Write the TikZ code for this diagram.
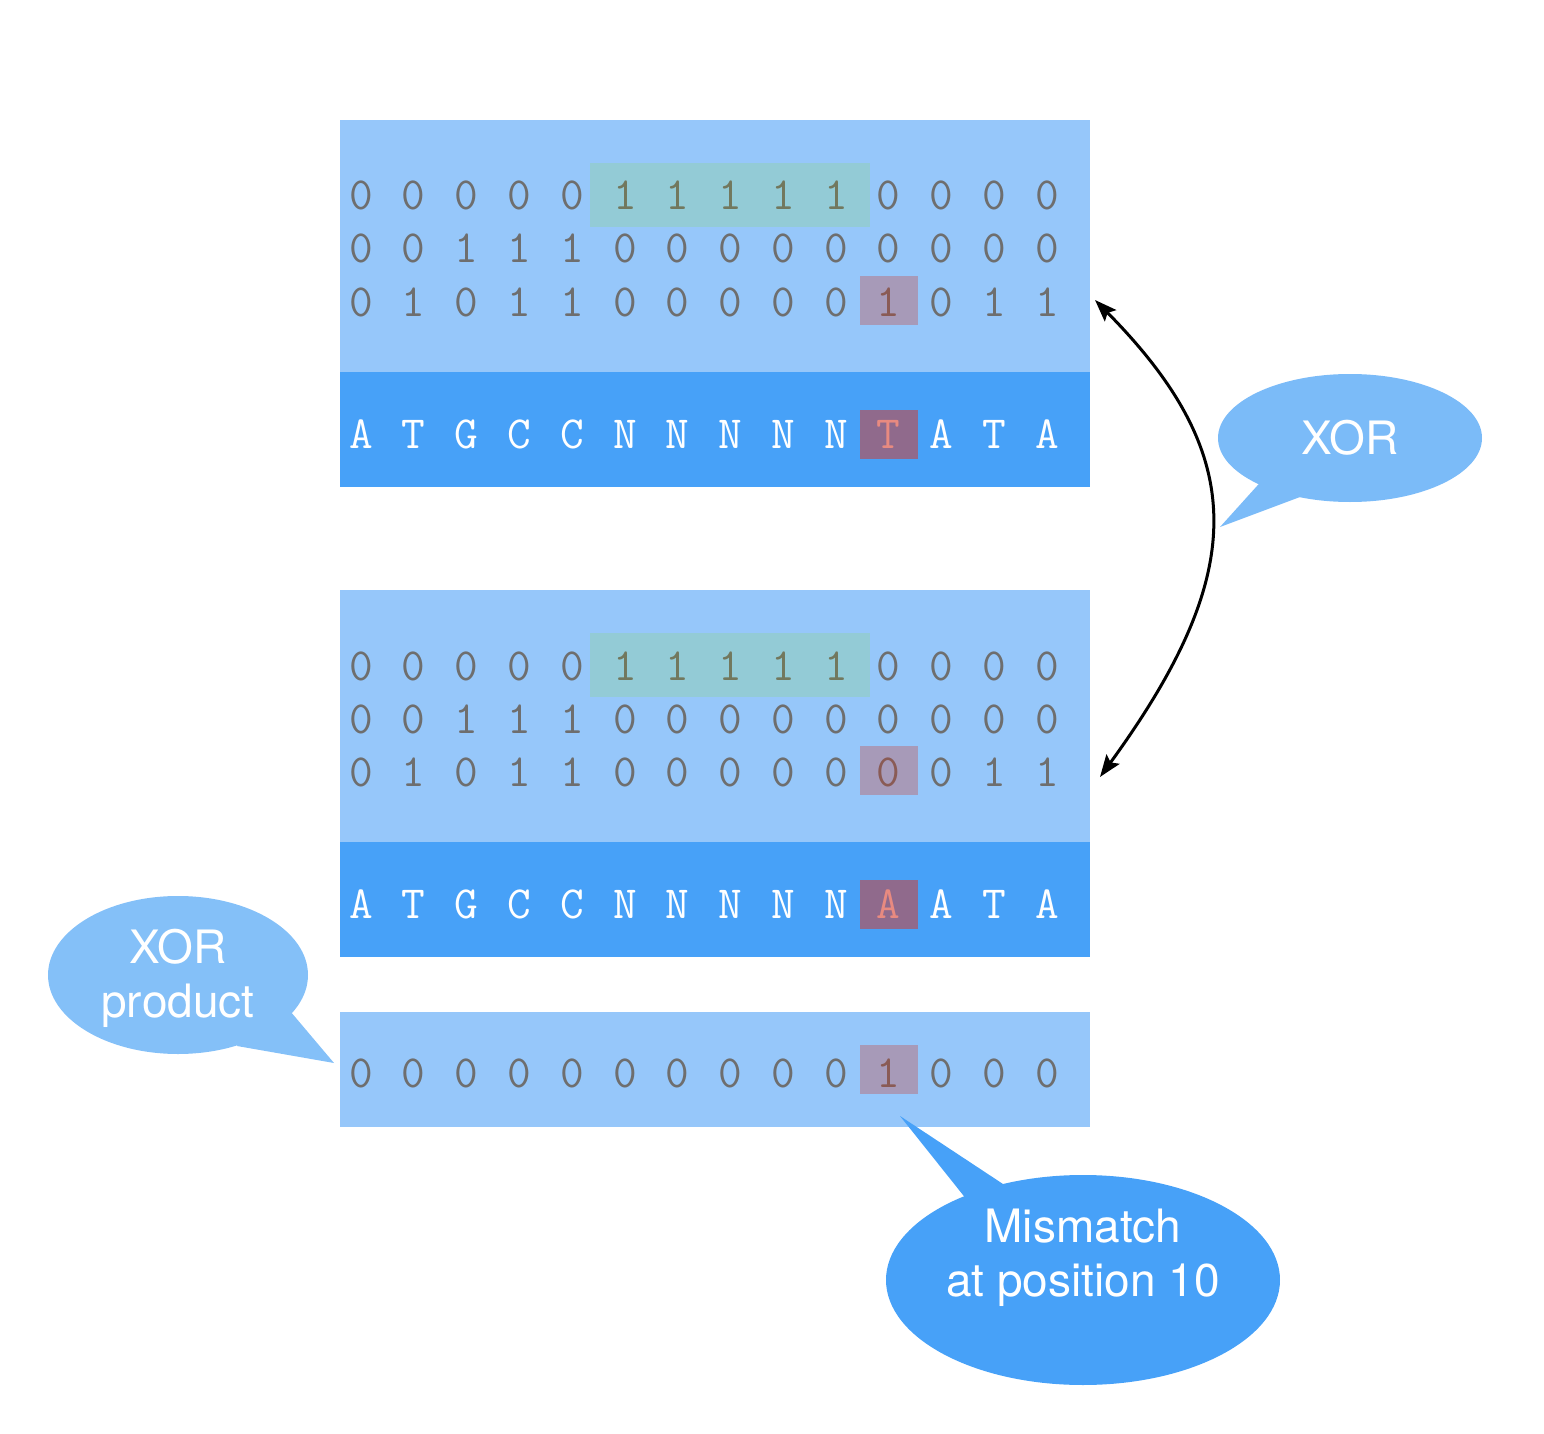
\documentclass[tikz,border=0pt]{standalone}
\usepackage{fontspec}
\setmainfont{TeX Gyre Heros}
\usetikzlibrary{shapes.geometric,arrows.meta}
\definecolor{lightbg}{RGB}{150,199,250}
\definecolor{darkbg}{RGB}{71,161,248}
\definecolor{greenhl}{RGB}{147,203,214}
\definecolor{pinkhl}{RGB}{167,154,184}
\definecolor{redhl}{RGB}{144,106,140}
\definecolor{dg}{RGB}{110,110,110}
\definecolor{dol}{RGB}{114,120,94}
\definecolor{dbr}{RGB}{138,91,85}
\definecolor{salm}{RGB}{232,138,128}
\definecolor{wt}{RGB}{255,255,255}
\definecolor{bubA}{RGB}{123,187,248}
\definecolor{bubB}{RGB}{132,192,248}
\definecolor{bubC}{RGB}{71,161,248}
\newcommand\charrow[3]{%
  \foreach \v/\c [count=\i] in {#3} {
    \node[chartext,text=\c] (#2-\i) at ({361+(\i-1)*52.77},#1) {\v};
  }}
\begin{document}
\begin{tikzpicture}[x=0.5pt,y=-0.5pt,
  panel/.style={inner sep=0pt,outer sep=0pt,anchor=north west,minimum width=375pt},
  hl/.style={inner sep=0pt,outer sep=0pt,anchor=north west},
  chartext/.style={inner sep=0pt,anchor=base,font=\ttfamily\fontsize{23}{26}\selectfont},
  bubble/.style={ellipse,inner sep=0pt,outer sep=0pt},
  btext/.style={inner sep=0pt,text=white,align=center,font=\fontsize{23}{27}\selectfont},
  arr/.style={line width=1.5pt,{Stealth[length=11pt,width=8pt,inset=2pt]}-{Stealth[length=11pt,width=8pt,inset=2pt]}}]
\useasboundingbox (0,0) rectangle (1544,1434);

% ---- first block
\node[panel,fill=lightbg,minimum height=126pt] (p1) at (340,120) {};
\node[panel,fill=darkbg,minimum height=57.5pt] (s1) at (340,372) {};
\node[hl,fill=greenhl,minimum width=140pt,minimum height=32pt] (g1) at (590,163) {};
\node[hl,fill=pinkhl,minimum width=29pt,minimum height=24.5pt] (k1) at (860,276) {};
\node[hl,fill=redhl,minimum width=29pt,minimum height=24.5pt] (d1) at (860,410) {};
\charrow{210}{a1}{0/dg,0/dg,0/dg,0/dg,0/dg,1/dol,1/dol,1/dol,1/dol,1/dol,0/dg,0/dg,0/dg,0/dg}
\charrow{263}{a2}{0/dg,0/dg,1/dg,1/dg,1/dg,0/dg,0/dg,0/dg,0/dg,0/dg,0/dg,0/dg,0/dg,0/dg}
\charrow{316}{a3}{0/dg,1/dg,0/dg,1/dg,1/dg,0/dg,0/dg,0/dg,0/dg,0/dg,1/dbr,0/dg,1/dg,1/dg}
\charrow{448}{as}{A/wt,T/wt,G/wt,C/wt,C/wt,N/wt,N/wt,N/wt,N/wt,N/wt,T/salm,A/wt,T/wt,A/wt}

% ---- second block
\node[panel,fill=lightbg,minimum height=126pt] (p2) at (340,590) {};
\node[panel,fill=darkbg,minimum height=57.5pt] (s2) at (340,842) {};
\node[hl,fill=greenhl,minimum width=140pt,minimum height=32pt] (g2) at (590,633) {};
\node[hl,fill=pinkhl,minimum width=29pt,minimum height=24.5pt] (k2) at (860,746) {};
\node[hl,fill=redhl,minimum width=29pt,minimum height=24.5pt] (d2) at (860,880) {};
\charrow{680}{b1}{0/dg,0/dg,0/dg,0/dg,0/dg,1/dol,1/dol,1/dol,1/dol,1/dol,0/dg,0/dg,0/dg,0/dg}
\charrow{733}{b2}{0/dg,0/dg,1/dg,1/dg,1/dg,0/dg,0/dg,0/dg,0/dg,0/dg,0/dg,0/dg,0/dg,0/dg}
\charrow{786}{b3}{0/dg,1/dg,0/dg,1/dg,1/dg,0/dg,0/dg,0/dg,0/dg,0/dg,0/dbr,0/dg,1/dg,1/dg}
\charrow{918}{bs}{A/wt,T/wt,G/wt,C/wt,C/wt,N/wt,N/wt,N/wt,N/wt,N/wt,A/salm,A/wt,T/wt,A/wt}

% ---- product row
\node[panel,fill=lightbg,minimum height=57.5pt] (p3) at (340,1012) {};
\node[hl,fill=pinkhl,minimum width=29pt,minimum height=24.5pt] (k3) at (860,1045) {};
\charrow{1087}{c1}{0/dg,0/dg,0/dg,0/dg,0/dg,0/dg,0/dg,0/dg,0/dg,0/dg,1/dbr,0/dg,0/dg,0/dg}

% ---- XOR arrow
\coordinate (at) at (1095,300);
\coordinate (ab) at (1100,777);
\draw[arr] (at) .. controls (1249,456) and (1249,572) .. (ab);

% ---- bubbles
\fill[bubA] (1266,476) -- (1220,527) -- (1300,497) -- (1300,470) -- cycle;
\node[bubble,fill=bubA,minimum width=132pt,minimum height=64pt] (xb) at (1350,438) {};
\node[btext] (xt) at (1350,438) {XOR};

\fill[bubB] (285,1005) -- (334,1063) -- (237,1046) -- (250,1010) -- cycle;
\node[bubble,fill=bubB,minimum width=130pt,minimum height=79pt] (pb) at (178,975) {};
\node[btext] (pt) at (178,978) {XOR\\product};

\fill[bubC] (975,1210) -- (900,1116) -- (1003,1184) -- (1010,1210) -- cycle;
\node[bubble,fill=bubC,minimum width=197pt,minimum height=105pt] (mb) at (1083,1280) {};
\node[btext] (mt) at (1083,1258) {Mismatch\\at position 10};
\end{tikzpicture}
\end{document}
